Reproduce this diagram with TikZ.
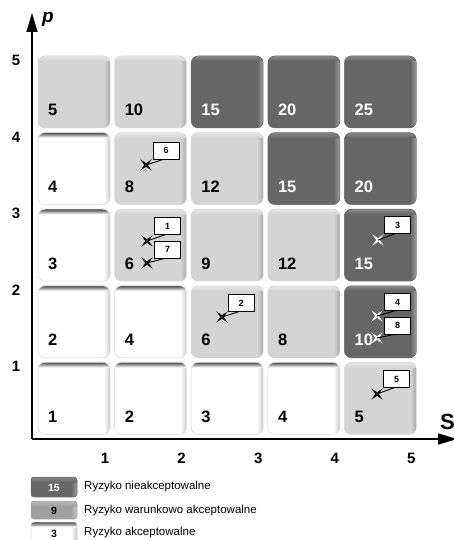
\documentclass[tikz,border=0pt]{standalone}
\usepackage{fontspec}
\setmainfont{Liberation Sans}
\usetikzlibrary{arrows.meta,calc}
\definecolor{cmainL}{HTML}{D4D4D4}
\definecolor{cedgeL}{HTML}{A8A8A8}
\definecolor{ctopL}{HTML}{E8E8E8}
\definecolor{ctextL}{HTML}{000000}
\definecolor{cbordL}{HTML}{D4D4D4}
\definecolor{cmainD}{HTML}{666666}
\definecolor{cedgeD}{HTML}{A0A0A0}
\definecolor{ctopD}{HTML}{888888}
\definecolor{ctextD}{HTML}{FFFFFF}
\definecolor{cbordD}{HTML}{666666}
\definecolor{cmainW}{HTML}{FFFFFF}
\definecolor{cedgeW}{HTML}{C8C8C8}
\definecolor{ctopW}{HTML}{4A4A4A}
\definecolor{ctextW}{HTML}{000000}
\definecolor{cbordW}{HTML}{DADADA}
\definecolor{cmainM}{HTML}{A0A0A0}
\definecolor{cedgeM}{HTML}{C8C8C8}
\definecolor{ctopM}{HTML}{B8B8B8}
\definecolor{ctextM}{HTML}{000000}
\definecolor{cbordM}{HTML}{A0A0A0}
\newcommand\rbox[6]{%
  \begin{scope}
    \path[clip, rounded corners=#5] (#1,#2) rectangle ++(#3,#4);
    \fill[fill=cmain#6] (#1,#2) rectangle ++(#3,#4);
    \shade[left color=cmain#6, right color=cedge#6] (#1+#3-6,#2) rectangle ++(6,#4);
    \shade[top color=ctop#6, bottom color=cmain#6] (#1,#2) rectangle ++(#3,5);
  \end{scope}
  \draw[color=cbord#6, rounded corners=#5, line width=0.5pt] (#1,#2) rectangle ++(#3,#4);
}
\tikzset{
  cellnum/.style={font=\bfseries\fontsize{16.5}{16.5}\selectfont, inner sep=0pt},
  axl/.style={font=\bfseries\fontsize{15}{15}\selectfont, inner sep=0pt},
  axisline/.style={line width=1.6pt, -{Triangle[length=19pt,width=11pt]}},
  mkline/.style={line width=0.7pt},
  lbl/.style={draw=black, fill=white, minimum width=26pt, minimum height=17pt, inner sep=0pt, font=\bfseries\fontsize{9}{9}\selectfont, line width=0.7pt},
  leader/.style={line width=0.9pt, draw=black},
  legtext/.style={font=\fontsize{11.5}{11.5}\selectfont, anchor=west, inner sep=0pt},
  legnum/.style={font=\bfseries\fontsize{10.5}{10.5}\selectfont, inner sep=0pt}
}
\begin{document}
\begin{tikzpicture}[x=1pt,y=-1pt]
\useasboundingbox (0,0) rectangle (454,540);
\fill[white] (0,0) rectangle (454,540);
% cells
\foreach \c/\r/\t/\v in {1/5/L/5, 2/5/L/10, 3/5/D/15, 4/5/D/20, 5/5/D/25,
  1/4/W/4, 2/4/L/8, 3/4/L/12, 4/4/D/15, 5/4/D/20,
  1/3/W/3, 2/3/L/6, 3/3/L/9, 4/3/L/12, 5/3/D/15,
  1/2/W/2, 2/2/W/4, 3/2/L/6, 4/2/L/8, 5/2/D/10,
  1/1/W/1, 2/1/W/2, 3/1/W/3, 4/1/W/4, 5/1/L/5}{
  \pgfmathsetmacro\cx{38+76.6*(\c-1)}
  \pgfmathsetmacro\cy{56+76.6*(5-\r)}
  \rbox{\cx}{\cy}{72}{72}{7pt}{\t}
  \node[cellnum, text=ctext\t, anchor=base west] (n\c\r) at (\cx+10,\cy+60) {\v};
}
% axes
\coordinate (O) at (32,439);
\coordinate (ptop) at (32,13);
\coordinate (send) at (457,439);
\draw[axisline] (O) -- (ptop);
\draw[axisline] (O) -- (send);
\node[font=\bfseries\itshape\fontsize{19}{19}\selectfont, anchor=base west, inner sep=0pt] (plab) at (42,23) {p};
\node[font=\bfseries\fontsize{22}{22}\selectfont, anchor=base west, inner sep=0pt] (slab) at (440,429) {S};
% axis numbers
\foreach \i/\yy in {5/60, 4/137, 3/213, 2/290, 1/366}{
  \node[axl] (yl\i) at (16,\yy) {\i};
}
\foreach \i in {1,...,5}{
  \pgfmathsetmacro\xx{105+76.6*(\i-1)}
  \node[axl] (xl\i) at (\xx,458) {\i};
}
% markers
\foreach \k/\mx/\my/\bx/\by/\mc in {6/146/165/166/150.5/black, 1/147/241/167.5/226/black, 7/147/263/167.5/249.5/black,
  2/222/317/241/303/black, 3/378/240/397.5/225/white, 4/377/316/397.5/302/white, 8/377/338/397.5/325.5/white,
  5/377/394/396.5/379/black}{
  \coordinate (m\k) at (\mx,\my);
  \draw[mkline, color=\mc] (m\k) +(4.2,-4.2) -- +(0,-1.3) -- +(-4.2,-4.2) -- +(-1.3,0) -- +(-4.2,4.2) -- +(0,1.3) -- +(4.2,4.2) -- +(1.3,0) -- cycle;
  \draw[mkline, color=\mc] (m\k) +(-3,-3) -- +(3,3) +(-3,3) -- +(3,-3);
  \node[lbl] (l\k) at (\bx,\by) {\k};
  \draw[leader] (m\k) -- ($(l\k.south west)!0.4!(l\k.south east)$);
}
% legend
\rbox{31}{477}{46}{20}{3pt}{D}
\node[legnum, text=white] (g1) at (54,487.5) {15};
\node[legtext] (t1) at (84,487) {Ryzyko nieakceptowalne};
\rbox{31}{501}{46}{18}{3pt}{M}
\node[legnum] (g2) at (54,511) {9};
\node[legtext] (t2) at (84,510.5) {Ryzyko warunkowo akceptowalne};
\rbox{31}{522}{46}{22}{3pt}{W}
\node[legnum] (g3) at (54,533.5) {3};
\node[legtext] (t3) at (84,532.5) {Ryzyko akceptowalne};
\end{tikzpicture}
\end{document}
